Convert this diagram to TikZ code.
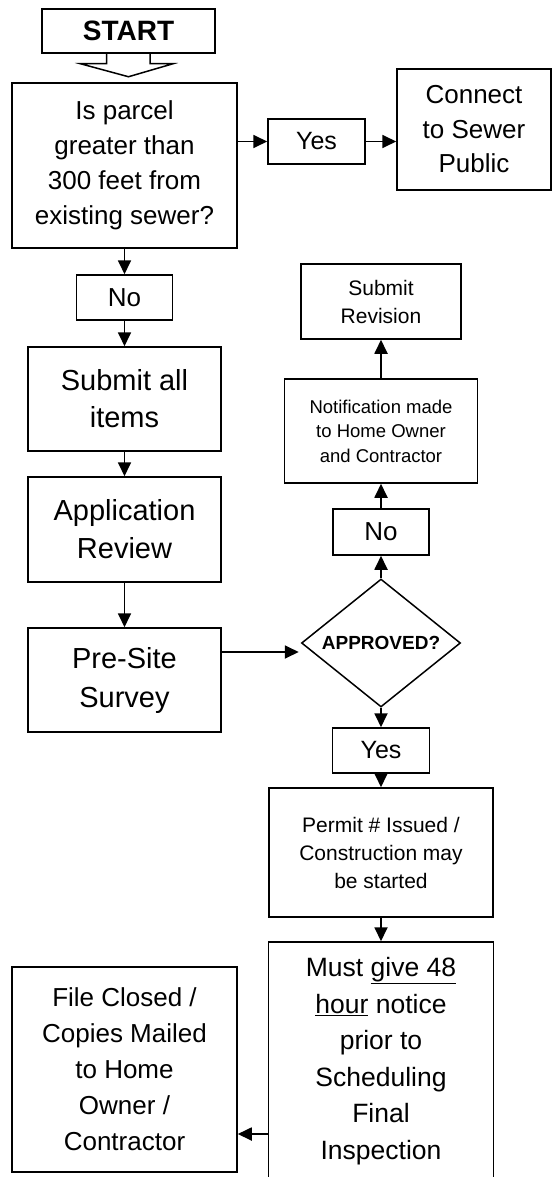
\documentclass[tikz,border=0pt]{standalone}
\usepackage{fontspec}
\setmainfont{Liberation Sans}
\usepackage{tikz}
\usetikzlibrary{calc}
\usetikzlibrary{arrows.meta}
\usetikzlibrary{shapes.geometric}

\begin{document}
\begin{tikzpicture}[x=1pt,y=-1pt]
\tikzstyle{box}=[rectangle,align=center,draw,line width=1.5pt,inner sep=0pt,fill=white]
\tikzstyle{arr}=[-{Triangle[length=14pt,width=13pt]},line width=1.8pt]
\useasboundingbox (0,0) rectangle (553,1177);

\node[box,minimum width=173pt,minimum height=44pt,font=\fontsize{28}{34}\selectfont\bfseries] at(128.5, 31) (start) {START};
\draw[line width=1.5pt] ([xshift=-22pt]start.south) -- ++(0,10) -- ++(-26,0) -- ([yshift=-23pt]start.south)
  -- ++(44.5,-13) -- ++(-23,0) -- ++(0,-10);

\node[box,minimum width=225pt,minimum height=165pt,font=\fontsize{26}{35}\selectfont] at(124.5, 165.5) (parcel) {Is parcel\\
                         greater than\\
                         300 feet from\\
                         existing sewer?};
\node[box,minimum width=97pt,minimum height=45pt,font=\fontsize{25}{30}\selectfont] at(316.5, 141.5) (yesA) {Yes};
\node[box,minimum width=154pt,minimum height=121pt,font=\fontsize{26}{34.5}\selectfont] at(474, 129.5) (connect) {Connect\\
                         to Sewer\\
                         Public};
\node[box,minimum width=96pt,minimum height=45pt,font=\fontsize{26}{30}\selectfont] at(124.5, 297.5) (noA) {No};
\node[box,minimum width=193pt,minimum height=104pt,font=\fontsize{29}{37}\selectfont] at(124.5, 399) (submit) {Submit all\\
                         items};
\node[box,minimum width=193pt,minimum height=105pt,font=\fontsize{29}{38}\selectfont] at(124.5, 529.5) (review) {Application\\
                         Review};
\node[box,minimum width=193pt,minimum height=104pt,font=\fontsize{29}{39}\selectfont] at(124.5, 680) (presite) {Pre-Site\\
                         Survey};

\node[draw,diamond,aspect=1.24,inner sep=0pt,line width=1.5pt,minimum width=159pt,minimum height=128pt,
      font=\fontsize{19}{23}\selectfont\bfseries] at(381, 643) (approved) {APPROVED?};
\node[box,minimum width=96pt,minimum height=46pt,font=\fontsize{26}{30}\selectfont] at(381, 532) (noB) {No};
\node[box,minimum width=193pt,minimum height=104pt,font=\fontsize{18.5}{24.5}\selectfont] at(381, 431) (notify) {Notification made\\
                         to Home Owner\\
                         and Contractor};
\node[box,minimum width=160pt,minimum height=75pt,font=\fontsize{21}{28}\selectfont] at(381, 301.5) (revision) {Submit\\
                         Revision};
\node[box,minimum width=97pt,minimum height=45pt,font=\fontsize{25}{30}\selectfont] at(381, 750.5) (yesB) {Yes};
\node[box,minimum width=224pt,minimum height=129pt,font=\fontsize{21}{28}\selectfont] at(381, 852.5) (permit) {Permit \# Issued /\\
                         Construction may\\
                         be started};
\node[box,minimum width=225pt,minimum height=238pt,font=\fontsize{26.5}{36.5}\selectfont] at(381, 1061) (must) {Must \underline{give 48}\\
                         \underline{hour} notice\\
                         prior to\\
                         Scheduling\\
                         Final\\
                         Inspection};
\node[box,minimum width=225pt,minimum height=205pt,font=\fontsize{26}{36}\selectfont] at(124.5, 1069.5) (closed) {File Closed /\\
                         Copies Mailed\\
                         to Home\\
                         Owner /\\
                         Contractor};

\draw[arr] (yesA.west -| parcel.east) -- (yesA.west);
\draw[arr] (yesA.east) -- (connect.west |- yesA.east);
\draw[arr] (parcel.south) -- (noA.north);
\draw[arr] (noA.south) -- (submit.north);
\draw[arr] (submit.south) -- (review.north);
\draw[arr] (review.south) -- (presite.north);
\draw[arr] ([yshift=-9pt]approved.west -| presite.east) -- ([xshift=-2pt,yshift=-9pt]approved.west);
\draw[arr] (approved.north) -- (noB.south);
\draw[arr] (noB.north) -- (notify.south);
\draw[arr] (notify.north) -- (revision.south);
\draw[arr] (approved.south) -- (yesB.north);
\draw[arr] (yesB.south) -- (permit.north);
\draw[arr] (permit.south) -- (must.north);
\draw[arr] ([yshift=-73pt]must.west) -- ([yshift=-64.5pt]closed.east);
\end{tikzpicture}
\end{document}
